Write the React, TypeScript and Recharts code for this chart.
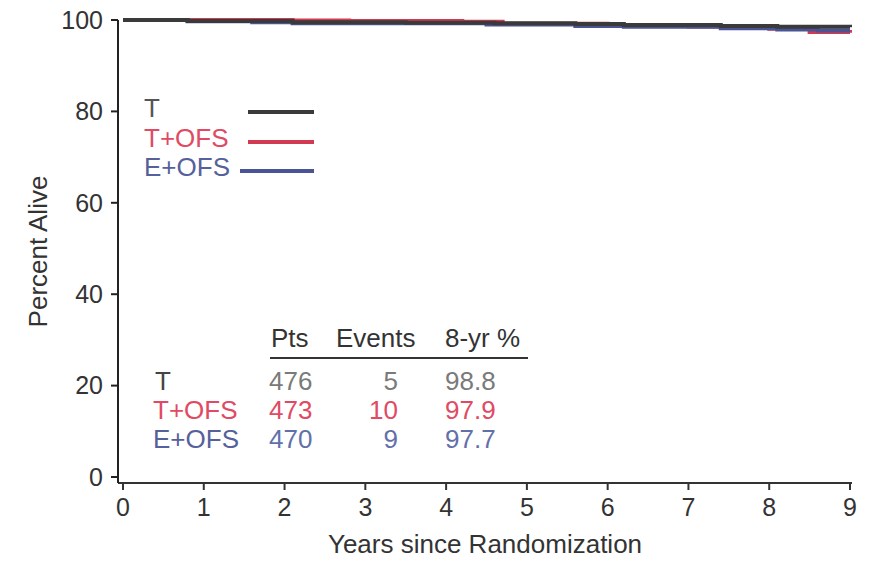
import { LineChart, Line, XAxis, YAxis } from 'recharts'

// Kaplan-Meier step points: [years, percent alive]
const tTimes = [0, 0.8, 2.1, 3.5, 4.6, 5.6, 6.2, 7.4, 8.1, 9]
const tSurv = [100, 99.8, 99.5, 99.4, 99.3, 99.1, 98.9, 98.7, 98.5, 98.4]
const tOfsTimes = [0, 2.1, 2.8, 4.2, 4.7, 6.0, 7.0, 8.0, 8.5, 9]
const tOfsSurv = [100, 99.9, 99.8, 99.6, 99.2, 98.9, 98.6, 98.1, 97.4, 97.2]
const eOfsTimes = [0, 0.8, 1.6, 2.1, 4.5, 5.6, 6.2, 7.4, 8.1, 8.6, 9]
const eOfsSurv = [100, 99.7, 99.5, 99.3, 99.0, 98.7, 98.5, 98.2, 97.9, 97.7, 97.7]

const xTicks = [0, 1, 2, 3, 4, 5, 6, 7, 8, 9]
const yTicks = [0, 20, 40, 60, 80, 100]

const groups = ['T', 'T+OFS', 'E+OFS']
const pts = [476, 473, 470]
const events = [5, 10, 9]
const eightYr = ['98.8', '97.9', '97.7']

const lineColors = ['#3a3a3a', '#d23a52', '#4a5494']
const labelColors = ['#555555', '#e04a64', '#56619c']
const numColors = ['#7a7a7a', '#e04a64', '#6270aa']

const font = '"Liberation Sans", Arial, sans-serif'

const toRows = (xs: number[], ys: number[]) => xs.map((x, i) => ({ x, y: ys[i] }))

function Annotations() {
  const legendY = [108, 138, 167]
  const lineStart = [248, 248, 240]
  const rowY = [381, 410, 439]
  return (
    <g fontFamily={font} fontSize={26}>
      {groups.map((g, i) => (
        <g key={g}>
          <text x={144} y={legendY[i]} dy="0.35em" fill={labelColors[i]}>{g}</text>
          <line x1={lineStart[i]} x2={314} y1={legendY[i] + 4} y2={legendY[i] + 4} stroke={lineColors[i]} strokeWidth={4} />
        </g>
      ))}
      <text x={271} y={338} dy="0.35em" fill="#333">Pts</text>
      <text x={336} y={338} dy="0.35em" fill="#333">Events</text>
      <text x={445} y={338} dy="0.35em" fill="#333">8-yr %</text>
      <line x1={270} x2={528} y1={358} y2={358} stroke="#333" strokeWidth={2} />
      {groups.map((g, i) => (
        <g key={'row' + g}>
          <text x={i === 0 ? 155 : 153} y={rowY[i]} dy="0.35em" fill={i === 0 ? '#444' : labelColors[i]}>{g}</text>
          <text x={269} y={rowY[i]} dy="0.35em" fill={numColors[i]}>{pts[i]}</text>
          <text x={398} y={rowY[i]} dy="0.35em" textAnchor="end" fill={numColors[i]}>{events[i]}</text>
          <text x={445} y={rowY[i]} dy="0.35em" fill={numColors[i]}>{eightYr[i]}</text>
        </g>
      ))}
    </g>
  )
}

export default function App() {
  return (
    <div style={{ position: 'absolute', left: 0, top: 0, background: '#fff' }}>
      <LineChart width={869} height={561} margin={{ top: 20, right: 17, bottom: 0, left: 0 }}>
        <XAxis
          type="number"
          dataKey="x"
          domain={[0, 9]}
          ticks={xTicks}
          allowDuplicatedCategory={false}
          padding={{ left: 5, right: 2 }}
          height={78}
          tickSize={7}
          tickMargin={8}
          axisLine={{ stroke: '#333', strokeWidth: 2 }}
          tickLine={{ stroke: '#333', strokeWidth: 2 }}
          tick={{ fill: '#333', fontSize: 25, fontFamily: font }}
          label={{ value: 'Years since Randomization', position: 'insideBottom', offset: 8, fill: '#333', fontSize: 26, fontFamily: font }}
        />
        <YAxis
          type="number"
          domain={[0, 100]}
          ticks={yTicks}
          padding={{ top: 0, bottom: 6 }}
          width={118}
          tickSize={7}
          tickMargin={8}
          axisLine={{ stroke: '#222', strokeWidth: 2 }}
          tickLine={{ stroke: '#222', strokeWidth: 2 }}
          tick={{ fill: '#333', fontSize: 25, fontFamily: font }}
          label={{ value: 'Percent Alive', angle: -90, position: 'insideLeft', offset: 38, fill: '#333', fontSize: 26, fontFamily: font, style: { textAnchor: 'middle' } }}
        />
        <Line data={toRows(tOfsTimes, tOfsSurv)} dataKey="y" type="stepAfter" stroke={lineColors[1]} strokeWidth={4} dot={false} isAnimationActive={false} />
        <Line data={toRows(eOfsTimes, eOfsSurv)} dataKey="y" type="stepAfter" stroke={lineColors[2]} strokeWidth={4} dot={false} isAnimationActive={false} />
        <Line data={toRows(tTimes, tSurv)} dataKey="y" type="stepAfter" stroke={lineColors[0]} strokeWidth={4} dot={false} isAnimationActive={false} />
        <Annotations />
      </LineChart>
    </div>
  )
}
